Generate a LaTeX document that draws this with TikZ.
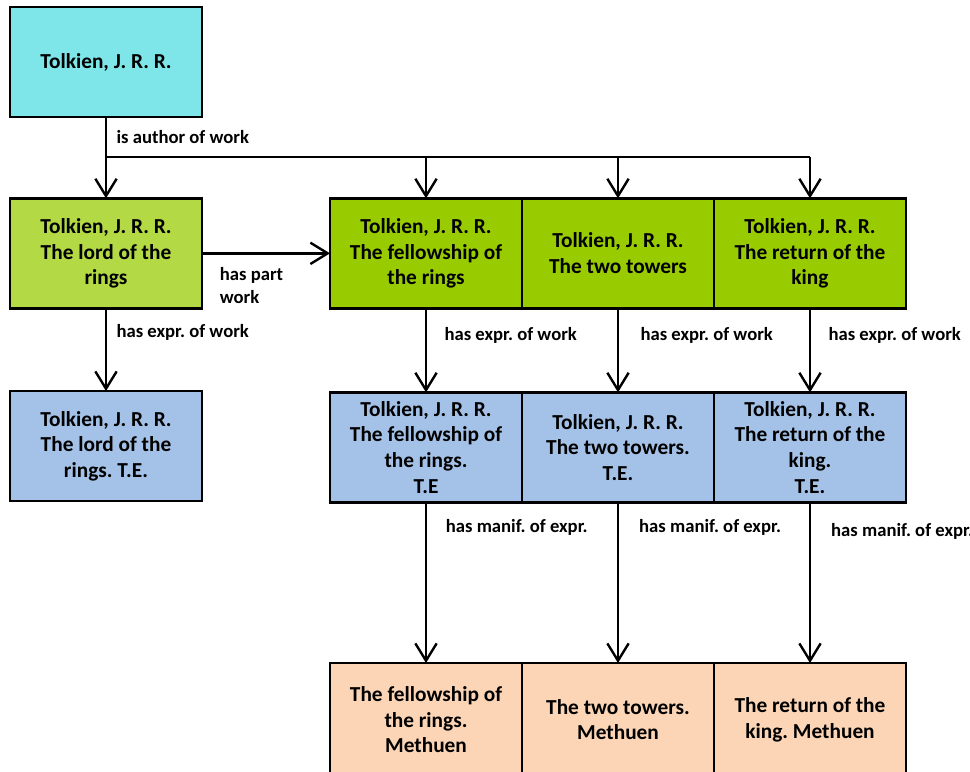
\documentclass[tikz,border=0pt]{standalone}
\usepackage{fontspec}
\setmainfont{Carlito}
\usepackage{tikz}
\usetikzlibrary{positioning,arrows.meta}
\frenchspacing

\definecolor{authorfill}{HTML}{7EE6E9}
\definecolor{lotrfill}{HTML}{B3D944}
\definecolor{workfill}{HTML}{99CC00}
\definecolor{exprfill}{HTML}{A4C2E8}
\definecolor{maniffill}{HTML}{FBD5B5}

\begin{document}
\begin{tikzpicture}[
  box/.style={draw, line width=1.8pt, align=center, outer sep=0pt,
              minimum width=144pt, minimum height=82.5pt,
              font=\fontsize{16}{19.2}\selectfont\bfseries},
  lbl/.style={font=\fontsize{14}{17}\selectfont\bfseries, inner sep=1pt},
  arr/.style={line width=1.8pt, -{Straight Barb[length=13pt,width=16pt]}},
  node distance=61pt and 96pt,
]
\useasboundingbox (-79.5pt,46.5pt) rectangle (648pt,-531.75pt);

% ---------- Person ----------
\node[box, fill=authorfill]                  (author) {Tolkien, J. R. R.};

% ---------- Works ----------
\node[box, fill=lotrfill, below=of author]   (lotr) {Tolkien, J. R. R.\\The lord of the\\rings};
\node[box, fill=workfill, right=of lotr]     (fel)  {Tolkien, J. R. R.\\The fellowship of\\the rings};
\node[box, fill=workfill, right=0pt of fel]  (two)  {Tolkien, J. R. R.\\The two towers};
\node[box, fill=workfill, right=0pt of two]  (ret)  {Tolkien, J. R. R.\\The return of the\\king};

% ---------- Expressions ----------
\node[box, fill=exprfill, below=62pt of lotr] (lotrE) {Tolkien, J. R. R.\\The lord of the\\rings. T.E.};
\node[box, fill=exprfill, below=63pt of fel]  (felE)  {Tolkien, J. R. R.\\The fellowship of\\the rings.\\T.E};
\node[box, fill=exprfill, right=0pt of felE]  (twoE)  {Tolkien, J. R. R.\\The two towers.\\T.E.};
\node[box, fill=exprfill, right=0pt of twoE]  (retE)  {Tolkien, J. R. R.\\The return of the\\king.\\T.E.};

% ---------- Manifestations ----------
\node[box, fill=maniffill, minimum height=85pt, below=120.5pt of felE] (felM) {The fellowship of\\the rings.\\Methuen};
\node[box, fill=maniffill, minimum height=85pt, right=0pt of felM]   (twoM) {The two towers.\\Methuen};
\node[box, fill=maniffill, minimum height=85pt, right=0pt of twoM]   (retM) {The return of the\\king. Methuen};

% ---------- Arrows ----------
\coordinate[below=30pt of author] (bus);
\draw[line width=1.8pt] (author) -- node[lbl, right=6pt] {is author of work} (bus)
      -- (bus -| ret);
\draw[arr] (bus) -- (lotr);
\draw[arr] (bus -| fel) -- (fel);
\draw[arr] (bus -| two) -- (two);
\draw[arr] (bus -| ret) -- (ret);

\draw[arr] (lotr) -- node[lbl, pos=0.12, below right=9pt and 0pt, align=left] {has part\\work} (fel);

\draw[arr] (lotr) -- node[lbl, pos=0.29, right=6pt] {has expr. of work} (lotrE);
\draw[arr] (fel) -- node[lbl, pos=0.32, right=12pt] {has expr. of work} (felE);
\draw[arr] (two) -- node[lbl, pos=0.32, right=15pt] {has expr. of work} (twoE);
\draw[arr] (ret) -- node[lbl, pos=0.32, right=12pt] {has expr. of work} (retE);

\draw[arr] (felE) -- node[lbl, pos=0.155, right=13pt] {has manif. of expr.} (felM);
\draw[arr] (twoE) -- node[lbl, pos=0.155, right=14pt] {has manif. of expr.} (twoM);
\draw[arr] (retE) -- node[lbl, pos=0.18, right=14pt] {has manif. of expr.} (retM);

\end{tikzpicture}
\end{document}
